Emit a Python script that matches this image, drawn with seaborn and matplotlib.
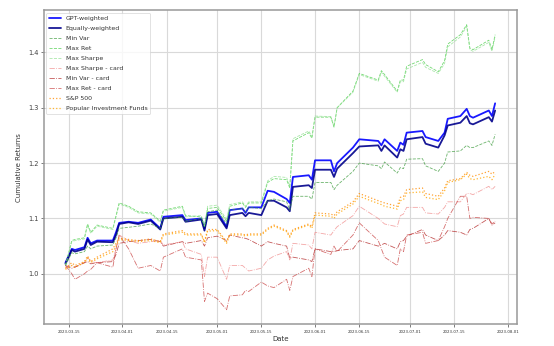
import matplotlib
matplotlib.use("Agg")
import matplotlib.pyplot as plt
import matplotlib.dates as mdates
import numpy as np
import pandas as pd
import seaborn as sns

dates = pd.to_datetime([
    "2023-03-14", "2023-03-16", "2023-03-17", "2023-03-20", "2023-03-21", "2023-03-22",
    "2023-03-24", "2023-03-29", "2023-03-30", "2023-03-31", "2023-04-03", "2023-04-06",
    "2023-04-10", "2023-04-13", "2023-04-14", "2023-04-20", "2023-04-21", "2023-04-26",
    "2023-04-27", "2023-04-28", "2023-05-01", "2023-05-04", "2023-05-05", "2023-05-09",
    "2023-05-10", "2023-05-11", "2023-05-15", "2023-05-17", "2023-05-19", "2023-05-23",
    "2023-05-24", "2023-05-25", "2023-05-30", "2023-05-31", "2023-06-01", "2023-06-06",
    "2023-06-07", "2023-06-08", "2023-06-13", "2023-06-15", "2023-06-21", "2023-06-22",
    "2023-06-23", "2023-06-27", "2023-06-28", "2023-06-29", "2023-06-30", "2023-07-05",
    "2023-07-06", "2023-07-10", "2023-07-12", "2023-07-13", "2023-07-17", "2023-07-19",
    "2023-07-20", "2023-07-21", "2023-07-26", "2023-07-27", "2023-07-28",
])

gpt_weighted = [
    1.020, 1.045, 1.043, 1.048, 1.065, 1.055, 1.060, 1.060, 1.075, 1.092,
    1.094, 1.092, 1.098, 1.082, 1.103, 1.106, 1.097, 1.100, 1.082, 1.110,
    1.112, 1.085, 1.115, 1.118, 1.110, 1.120, 1.120, 1.150, 1.148, 1.135,
    1.128, 1.175, 1.178, 1.170, 1.205, 1.205, 1.185, 1.200, 1.228, 1.243,
    1.240, 1.232, 1.243, 1.222, 1.237, 1.233, 1.255, 1.258, 1.247, 1.240,
    1.255, 1.280, 1.285, 1.298, 1.285, 1.282, 1.295, 1.285, 1.308,
]
equally_weighted = [
    1.018, 1.043, 1.040, 1.045, 1.062, 1.052, 1.058, 1.057, 1.070, 1.090,
    1.093, 1.090, 1.096, 1.080, 1.100, 1.103, 1.094, 1.098, 1.078, 1.106,
    1.108, 1.082, 1.106, 1.110, 1.104, 1.110, 1.106, 1.132, 1.132, 1.120,
    1.113, 1.157, 1.160, 1.155, 1.188, 1.188, 1.175, 1.190, 1.218, 1.230,
    1.232, 1.222, 1.232, 1.210, 1.225, 1.222, 1.243, 1.247, 1.235, 1.228,
    1.250, 1.268, 1.273, 1.285, 1.272, 1.270, 1.283, 1.275, 1.295,
]
min_var = [
    1.015, 1.038, 1.036, 1.040, 1.050, 1.045, 1.050, 1.052, 1.065, 1.082,
    1.084, 1.086, 1.090, 1.082, 1.100, 1.102, 1.095, 1.100, 1.085, 1.112,
    1.115, 1.090, 1.115, 1.118, 1.112, 1.120, 1.118, 1.132, 1.135, 1.130,
    1.115, 1.140, 1.140, 1.135, 1.165, 1.165, 1.152, 1.160, 1.185, 1.200,
    1.195, 1.190, 1.202, 1.182, 1.192, 1.190, 1.207, 1.208, 1.195, 1.185,
    1.200, 1.220, 1.222, 1.232, 1.228, 1.228, 1.240, 1.232, 1.252,
]
max_ret = [
    1.015, 1.060, 1.062, 1.065, 1.090, 1.075, 1.088, 1.082, 1.105, 1.128,
    1.122, 1.112, 1.110, 1.095, 1.115, 1.122, 1.105, 1.103, 1.085, 1.118,
    1.120, 1.095, 1.122, 1.128, 1.120, 1.128, 1.128, 1.165, 1.172, 1.170,
    1.155, 1.240, 1.255, 1.245, 1.283, 1.283, 1.265, 1.300, 1.330, 1.362,
    1.350, 1.367, 1.360, 1.330, 1.350, 1.350, 1.375, 1.387, 1.378, 1.365,
    1.385, 1.415, 1.432, 1.450, 1.408, 1.405, 1.422, 1.405, 1.432,
]
max_sharpe = [
    1.015, 1.058, 1.060, 1.063, 1.088, 1.073, 1.086, 1.080, 1.103, 1.126,
    1.120, 1.110, 1.108, 1.093, 1.113, 1.120, 1.103, 1.105, 1.087, 1.122,
    1.124, 1.098, 1.125, 1.130, 1.122, 1.130, 1.130, 1.168, 1.176, 1.174,
    1.158, 1.244, 1.258, 1.248, 1.285, 1.284, 1.266, 1.300, 1.328, 1.360,
    1.348, 1.364, 1.357, 1.328, 1.347, 1.347, 1.370, 1.382, 1.373, 1.362,
    1.380, 1.410, 1.428, 1.447, 1.405, 1.402, 1.418, 1.402, 1.428,
]
max_sharpe_card = [
    1.010, 1.015, 1.012, 1.020, 1.030, 1.022, 1.020, 1.025, 1.045, 1.070,
    1.060, 1.055, 1.058, 1.060, 1.052, 1.058, 1.045, 1.035, 0.995, 1.030,
    1.030, 0.990, 1.015, 1.015, 1.010, 1.005, 1.010, 1.025, 1.032, 1.040,
    1.025, 1.055, 1.052, 1.045, 1.075, 1.070, 1.078, 1.085, 1.105, 1.122,
    1.100, 1.095, 1.090, 1.085, 1.105, 1.108, 1.120, 1.120, 1.110, 1.108,
    1.120, 1.130, 1.130, 1.145, 1.145, 1.143, 1.158, 1.152, 1.158,
]
min_var_card = [
    1.015, 1.010, 1.012, 1.020, 1.022, 1.018, 1.020, 1.022, 1.035, 1.055,
    1.058, 1.060, 1.062, 1.058, 1.050, 1.058, 1.055, 1.060, 1.050, 1.065,
    1.068, 1.060, 1.070, 1.065, 1.064, 1.062, 1.050, 1.058, 1.055, 1.050,
    1.028, 1.030, 1.025, 1.022, 1.045, 1.040, 1.040, 1.042, 1.045, 1.060,
    1.050, 1.052, 1.055, 1.045, 1.058, 1.060, 1.068, 1.080, 1.070, 1.060,
    1.070, 1.078, 1.075, 1.070, 1.080, 1.082, 1.100, 1.088, 1.092,
]
max_ret_card = [
    1.015, 1.000, 0.990, 1.000, 1.005, 1.008, 1.020, 1.012, 1.045, 1.070,
    1.045, 1.010, 1.015, 1.005, 1.030, 1.045, 1.030, 1.025, 0.950, 0.965,
    0.955, 0.935, 0.960, 0.962, 0.970, 0.968, 0.985, 0.978, 0.975, 0.990,
    0.970, 0.995, 1.010, 0.995, 1.045, 1.035, 1.050, 1.040, 1.070, 1.092,
    1.060, 1.045, 1.030, 1.015, 1.045, 1.040, 1.070, 1.075, 1.055, 1.060,
    1.085, 1.100, 1.140, 1.140, 1.100, 1.102, 1.100, 1.090, 1.095,
]
sp500 = [
    1.010, 1.020, 1.015, 1.022, 1.032, 1.022, 1.030, 1.045, 1.055, 1.065,
    1.062, 1.060, 1.063, 1.058, 1.072, 1.078, 1.072, 1.072, 1.058, 1.080,
    1.080, 1.058, 1.072, 1.072, 1.070, 1.072, 1.072, 1.082, 1.088, 1.078,
    1.068, 1.080, 1.090, 1.085, 1.110, 1.108, 1.105, 1.112, 1.130, 1.145,
    1.132, 1.130, 1.128, 1.122, 1.138, 1.140, 1.152, 1.155, 1.145, 1.140,
    1.155, 1.168, 1.172, 1.183, 1.178, 1.176, 1.185, 1.180, 1.185,
]
popular_funds = [
    1.008, 1.015, 1.012, 1.020, 1.028, 1.020, 1.027, 1.040, 1.050, 1.062,
    1.060, 1.058, 1.060, 1.056, 1.070, 1.075, 1.070, 1.070, 1.056, 1.077,
    1.078, 1.055, 1.070, 1.070, 1.068, 1.070, 1.070, 1.080, 1.086, 1.076,
    1.066, 1.078, 1.088, 1.082, 1.106, 1.104, 1.100, 1.108, 1.126, 1.140,
    1.127, 1.125, 1.122, 1.117, 1.132, 1.134, 1.146, 1.148, 1.138, 1.134,
    1.150, 1.165, 1.170, 1.180, 1.172, 1.170, 1.176, 1.170, 1.180,
]

series = [
    ("GPT-weighted", gpt_weighted, "blue", "-", 1.3, 0.9),
    ("Equally-weighted", equally_weighted, "darkblue", "-", 1.3, 0.9),
    ("Min Var", min_var, "#3a9a3a", "--", 0.6, 0.75),
    ("Max Ret", max_ret, "#44cc44", "--", 0.6, 0.75),
    ("Max Sharpe", max_sharpe, "#8fe08f", "--", 0.6, 0.75),
    ("Max Sharpe - card", max_sharpe_card, "#f08a8a", "-.", 0.6, 0.75),
    ("Min Var - card", min_var_card, "#b22222", "-.", 0.6, 0.75),
    ("Max Ret - card", max_ret_card, "#c84040", "-.", 0.6, 0.75),
    ("S&P 500", sp500, "darkorange", ":", 0.9, 0.8),
    ("Popular Investment Funds", popular_funds, "orange", ":", 0.9, 0.8),
]

sns.set_theme(style="whitegrid", rc={
    "axes.edgecolor": "0.6",
    "axes.linewidth": 1.1,
    "grid.color": "0.85",
    "grid.linewidth": 0.8,
    "xtick.bottom": True,
    "ytick.left": True,
    "xtick.color": "0.4",
    "ytick.color": "0.4",
    "xtick.major.size": 2.5,
    "ytick.major.size": 2.5,
    "xtick.major.width": 0.6,
    "ytick.major.width": 0.6,
})
plt.rcParams["font.family"] = ["DejaVu Sans"]

fig = plt.figure(figsize=(5.54, 3.46), dpi=100)
ax = fig.add_axes([0.0794, 0.0636, 0.8531, 0.9061])

for name, vals, color, ls, lw, alpha in series:
    sns.lineplot(x=dates, y=vals, ax=ax, color=color, linestyle=ls,
                 linewidth=lw, alpha=alpha, label=name)

ax.xaxis.set_major_locator(mdates.DayLocator(bymonthday=[1, 15]))
ax.xaxis.set_major_formatter(mdates.DateFormatter("%Y-%m-%d"))
ax.tick_params(axis="x", labelsize=2.8, pad=1.5, labelcolor="0.2")
ax.tick_params(axis="y", labelsize=4.8, pad=1.5, labelcolor="0.25")
ax.set_yticks([1.0, 1.1, 1.2, 1.3, 1.4])
ax.set_xlabel("Date", fontsize=5, color="0.2", labelpad=2)
ax.set_ylabel("Cumulative Returns", fontsize=5, color="0.2", labelpad=4)

leg = ax.legend(loc="upper left", fontsize=4.5, frameon=True, framealpha=0.8,
                borderaxespad=0.4, handlelength=1.9, labelspacing=0.75)
leg.get_frame().set_linewidth(0.5)
for t in leg.get_texts():
    t.set_color("0.2")

fig.savefig("out.png", dpi=100)
